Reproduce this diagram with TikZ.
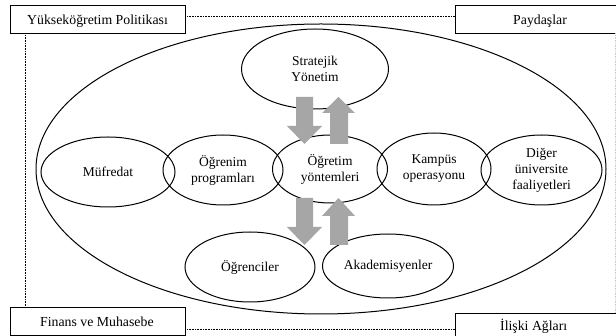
\documentclass[tikz,border=0pt]{standalone}
\usepackage{fontspec}
\setmainfont{Liberation Serif}
\usetikzlibrary{shapes.geometric}
\begin{document}
\begin{tikzpicture}[x=1pt,y=-1pt,
  oval/.style={draw, ellipse, line width=1pt, inner sep=0pt, align=center,
    font=\fontsize{13.5}{16}\selectfont},
  lbox/.style={draw, line width=0.9pt, inner sep=0pt, minimum width=175pt,
    minimum height=28pt},
  lbl/.style={inner sep=0pt, anchor=base west, font=\fontsize{13.8}{16}\selectfont},
  dotline/.style={line width=0.9pt, dash pattern=on 0.8pt off 0.8pt},
  barrow/.style={fill=black!35, draw=none}]
\useasboundingbox (0,0) rectangle (616,336);
\clip (0,0) rectangle (616,336);
\fill[white] (0,0) rectangle (616,336);

% corner boxes
\node[lbox] (pol) at (97.5,19) {};
\node[lbl] (polt) at (27,25) {Yükseköğretim Politikası};
\node[lbox] (pay) at (542.5,19) {};
\node[lbl] (payt) at (513,25) {Paydaşlar};
\node[lbox] (fin) at (97.5,321) {};
\node[lbl] (fint) at (40,327) {Finans ve Muhasebe};
\node[lbox] (ili) at (542.5,327) {};
\node[lbl] (ilit) at (500,331) {İlişki Ağları};

% dotted connectors
\draw[dotline] ([yshift=3pt]pol.east) -- ([yshift=3pt]pay.west);
\draw[dotline] ([xshift=-72.5pt]pol.south) -- ([xshift=-72.5pt]fin.north);
\draw[dotline] ([yshift=-8pt]fin.east) -- ([yshift=-2pt]ili.west);
\draw[dotline, draw=black!20] ([xshift=72.5pt]pay.south) -- ([xshift=72.5pt]ili.north);

% outer ellipse
\node[draw, ellipse, line width=1pt, inner sep=0pt, minimum width=570pt, minimum height=290pt] (outer) at (321,169) {};

% inner ellipses
\node[oval, minimum width=147pt, minimum height=80pt] (strat) at (315,69) {Stratejik\\Yönetim};
\node[oval, minimum width=134pt, minimum height=70pt] (mufr) at (108,172) {Müfredat};
\node[oval, minimum width=120pt, minimum height=70pt] (ogrp) at (223,170) {Öğrenim\\programları};
\node[oval, minimum width=115pt, minimum height=68pt] (ogry) at (330,169) {Öğretim\\yöntemleri};
\node[oval, minimum width=114pt, minimum height=72pt] (kamp) at (434,169) {Kampüs\\operasyonu};
\node[oval, minimum width=121pt, minimum height=70pt] (diger) at (541.5,170) {Diğer\\üniversite\\faaliyetleri};
\node[oval, minimum width=130pt, minimum height=70pt] (ogrc) at (250,267) {Öğrenciler};
\node[oval, minimum width=131pt, minimum height=64pt] (akad) at (388,266) {Akademisyenler};

% block arrows
\path[barrow] (296,97) -- (313,97) -- (313,126) -- (322,126) -- (304.5,144) -- (287,126) -- (296,126) -- cycle;
\path[barrow] (338.5,97) -- (355,113) -- (348,113) -- (348,144) -- (330,144) -- (330,113) -- (322,113) -- cycle;
\path[barrow] (296,198) -- (313,198) -- (313,227) -- (322,227) -- (304.5,245) -- (287,227) -- (296,227) -- cycle;
\path[barrow] (338.5,198) -- (355,216) -- (348,216) -- (348,245) -- (330,245) -- (330,216) -- (322,216) -- cycle;
\end{tikzpicture}
\end{document}
